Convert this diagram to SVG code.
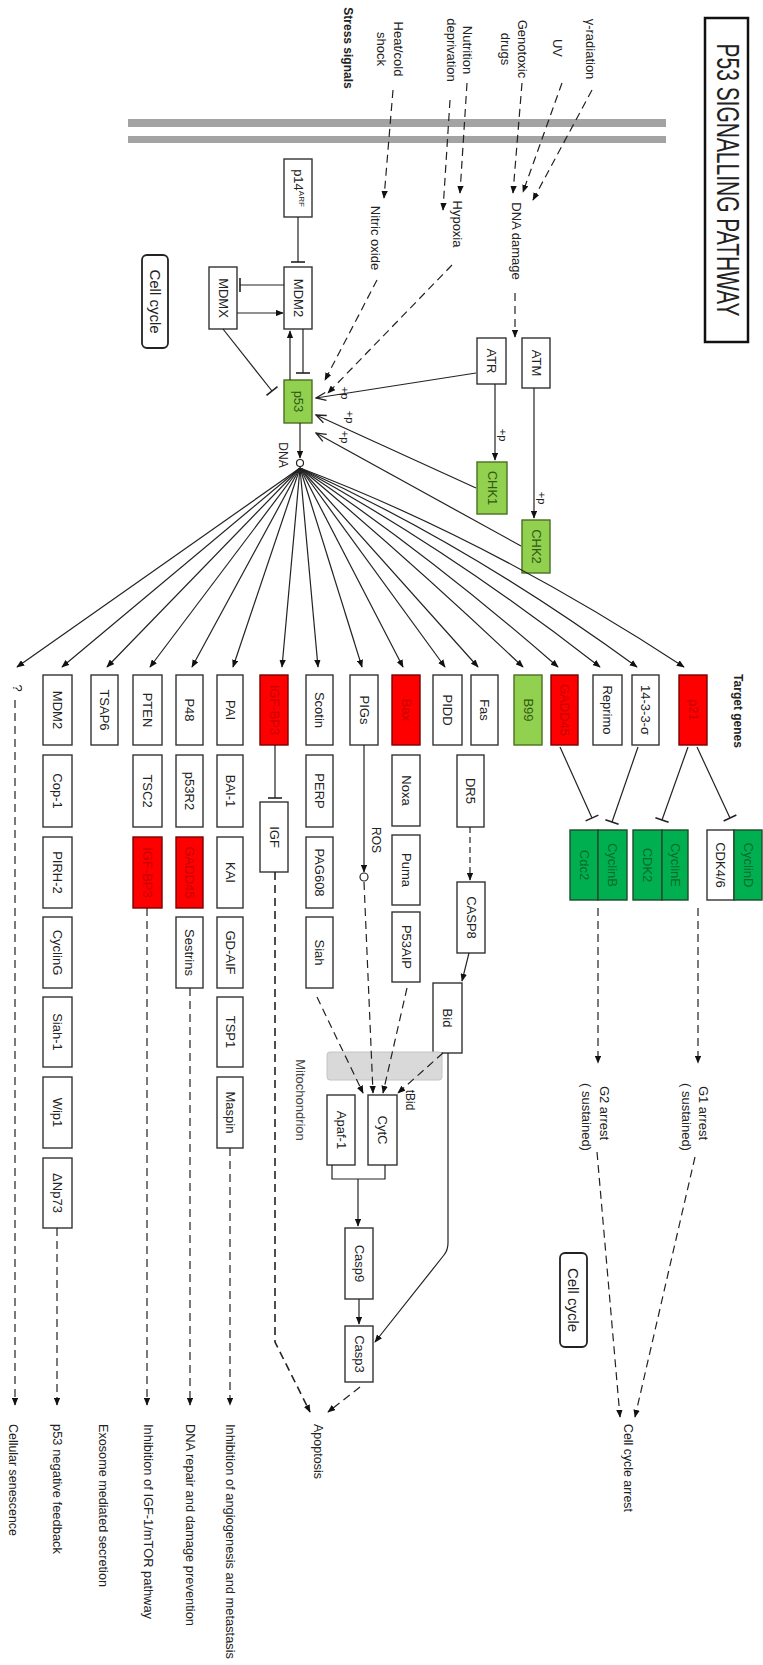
<svg xmlns="http://www.w3.org/2000/svg" width="763" height="1665" viewBox="0 0 763 1665">
<defs>
<style>
.t{font-family:'Liberation Sans',Arial,sans-serif;font-size:13px;fill:#222;text-anchor:middle;dominant-baseline:central}
.s{text-anchor:start}
.b{font-weight:bold}
.box{fill:#fff;stroke:#333;stroke-width:1.4}
.red{fill:#ff0000;stroke:#7a0000;stroke-width:1.4}
.lg{fill:#92d050;stroke:#4b6f22;stroke-width:1.4}
.dg{fill:#00b050;stroke:#1e4a2c;stroke-width:1.4}
.rt{fill:#c80000}
.gt{fill:#2e5a12}
.dgt{fill:#0a6a2a}
.ln{stroke:#222;stroke-width:1.2;fill:none}
.da{stroke-dasharray:8 5}
.mem{fill:#a3a3a3}
</style>
<marker id="ah" viewBox="0 0 10 8" refX="9" refY="4" markerWidth="8" markerHeight="6.5" orient="auto" markerUnits="userSpaceOnUse"><path d="M0,0 L10,4 L0,8z" fill="#111"/></marker>
<marker id="oa" viewBox="-1 -1 12 10" refX="10" refY="4" markerWidth="12" markerHeight="10" orient="auto" markerUnits="userSpaceOnUse"><path d="M0,0 L10,4 L0,8" fill="none" stroke="#222" stroke-width="1.3"/></marker>
<marker id="tee" viewBox="-2 -8 4 16" refX="0" refY="0" markerWidth="4" markerHeight="16" orient="auto" markerUnits="userSpaceOnUse"><path d="M0,-7 V7" stroke="#222" stroke-width="1.6"/></marker>
</defs>
<rect width="763" height="1665" fill="#fff"/>

<!-- membrane -->
<g id="membrane">
<rect class="mem" x="128" y="119" width="538" height="8"/>
<rect class="mem" x="128" y="136" width="538" height="7"/>
</g>

<g id="title">
<rect x="705" y="18" width="43" height="324" fill="#fff" stroke="#111" stroke-width="2.5"/>
<text class="t" x="727" y="180" transform="rotate(90 727 180)" font-size="31" textLength="273" lengthAdjust="spacingAndGlyphs" style="font-size:31px">P53 SIGNALLING PATHWAY</text>
</g>

<g id="stress-labels">
<text class="t b" x="348" y="48" transform="rotate(90 348 48)" style="font-size:12px">Stress signals</text>
<text class="t" x="590" y="49" transform="rotate(90 590 49)">γ-radiation</text>
<text class="t" x="557" y="48" transform="rotate(90 557 48)">UV</text>
<text class="t" x="522" y="49" transform="rotate(90 522 49)">Genotoxic</text>
<text class="t" x="505" y="49" transform="rotate(90 505 49)">drugs</text>
<text class="t" x="467" y="50" transform="rotate(90 467 50)">Nutrition</text>
<text class="t" x="451" y="50" transform="rotate(90 451 50)">deprivation</text>
<text class="t" x="398" y="49" transform="rotate(90 398 49)">Heat/cold</text>
<text class="t" x="381" y="49" transform="rotate(90 381 49)">shock</text>
<text class="t" x="516" y="241" transform="rotate(90 516 241)">DNA damage</text>
<text class="t" x="457" y="224" transform="rotate(90 457 224)">Hypoxia</text>
<text class="t" x="375" y="238" transform="rotate(90 375 238)">Nitric oxide</text>
<text class="t b" x="738" y="711" transform="rotate(90 738 711)" style="font-size:12px">Target genes</text>
</g>

<g id="nodes-top">
<g id="ATM"><rect class="box" x="522" y="338" width="28" height="50"/><text class="t" x="536" y="363" transform="rotate(90 536 363)">ATM</text></g>
<g id="ATR"><rect class="box" x="477" y="338" width="29" height="46"/><text class="t" x="491.5" y="361" transform="rotate(90 491.5 361)">ATR</text></g>
<g id="CHK1"><rect class="lg" x="477" y="462" width="30" height="52"/><text class="t gt" x="492" y="488" transform="rotate(90 492 488)">CHK1</text></g>
<g id="CHK2"><rect class="lg" x="522" y="520" width="28" height="53"/><text class="t gt" x="536" y="546.5" transform="rotate(90 536 546.5)">CHK2</text></g>
<g id="p14ARF"><rect class="box" x="284" y="159" width="28" height="58"/><text class="t" x="298" y="188" transform="rotate(90 298 188)">p14<tspan style="font-size:8px" dy="-4">ARF</tspan></text></g>
<g id="MDM2a"><rect class="box" x="284" y="267" width="28" height="62"/><text class="t" x="298" y="298" transform="rotate(90 298 298)">MDM2</text></g>
<g id="MDMX"><rect class="box" x="209" y="267" width="28" height="62"/><text class="t" x="223" y="298" transform="rotate(90 223 298)">MDMX</text></g>
<g id="p53"><rect class="lg" x="284" y="380" width="28" height="43"/><text class="t gt" x="298" y="401.5" transform="rotate(90 298 401.5)">p53</text></g>
<g id="cellcycle1"><rect x="142" y="255" width="26" height="93" rx="5" fill="#fff" stroke="#222" stroke-width="1.8"/><text class="t" x="155" y="301.5" transform="rotate(90 155 301.5)" style="font-size:15px">Cell cycle</text></g>
<g id="DNA"><circle cx="300" cy="463" r="3.5" fill="#fff" stroke="#222" stroke-width="1.2"/><text class="t" x="283" y="455" transform="rotate(90 283 455)" style="font-size:12px">DNA</text></g>
</g>

<g id="target-genes">
<g id="g-MDM2"><rect class="box" x="43" y="675" width="29" height="70"/><text class="t" x="57.5" y="710" transform="rotate(90 57.5 710)">MDM2</text></g>
<g id="g-TSAP6"><rect class="box" x="91" y="675" width="27" height="70"/><text class="t" x="104.5" y="710" transform="rotate(90 104.5 710)">TSAP6</text></g>
<g id="g-PTEN"><rect class="box" x="133" y="675" width="29" height="70"/><text class="t" x="147.5" y="710" transform="rotate(90 147.5 710)">PTEN</text></g>
<g id="g-P48"><rect class="box" x="176" y="675" width="27" height="70"/><text class="t" x="189.5" y="710" transform="rotate(90 189.5 710)">P48</text></g>
<g id="g-PAI"><rect class="box" x="217" y="675" width="26" height="70"/><text class="t" x="230" y="710" transform="rotate(90 230 710)">PAI</text></g>
<g id="g-IGFBP3"><rect class="red" x="260" y="675" width="28" height="70"/><text class="t rt" x="274" y="710" transform="rotate(90 274 710)">IGF-BP3</text></g>
<g id="g-Scotin"><rect class="box" x="306" y="675" width="27" height="70"/><text class="t" x="319.5" y="710" transform="rotate(90 319.5 710)">Scotin</text></g>
<g id="g-PIGs"><rect class="box" x="350" y="675" width="28" height="70"/><text class="t" x="364" y="710" transform="rotate(90 364 710)">PIGs</text></g>
<g id="g-Bax"><rect class="red" x="392" y="675" width="28" height="70"/><text class="t rt" x="406" y="710" transform="rotate(90 406 710)">Bax</text></g>
<g id="g-PIDD"><rect class="box" x="433" y="675" width="29" height="70"/><text class="t" x="447.5" y="710" transform="rotate(90 447.5 710)">PIDD</text></g>
<g id="g-Fas"><rect class="box" x="471" y="675" width="27" height="70"/><text class="t" x="484.5" y="710" transform="rotate(90 484.5 710)">Fas</text></g>
<g id="g-B99"><rect class="lg" x="514" y="675" width="28" height="70"/><text class="t gt" x="528" y="710" transform="rotate(90 528 710)">B99</text></g>
<g id="g-GADD45"><rect class="red" x="551" y="675" width="27" height="70"/><text class="t rt" x="564.5" y="710" transform="rotate(90 564.5 710)">GADD45</text></g>
<g id="g-Reprimo"><rect class="box" x="593" y="675" width="29" height="70"/><text class="t" x="607.5" y="710" transform="rotate(90 607.5 710)">Reprimo</text></g>
<g id="g-1433"><rect class="box" x="632" y="675" width="27" height="70"/><text class="t" x="645.5" y="710" transform="rotate(90 645.5 710)">14-3-3-σ</text></g>
<g id="g-p21"><rect class="red" x="679" y="675" width="28" height="70"/><text class="t rt" x="693" y="710" transform="rotate(90 693 710)">p21</text></g>
<text class="t" x="17" y="688" transform="rotate(90 17 688)">?</text>
</g>

<g id="secondary-nodes">
<g id="Cop1"><rect class="box" x="43" y="755" width="29" height="72"/><text class="t" x="57.5" y="791" transform="rotate(90 57.5 791)">Cop-1</text></g>
<g id="TSC2"><rect class="box" x="133" y="755" width="29" height="72"/><text class="t" x="147.5" y="791" transform="rotate(90 147.5 791)">TSC2</text></g>
<g id="p53R2"><rect class="box" x="176" y="755" width="27" height="72"/><text class="t" x="189.5" y="791" transform="rotate(90 189.5 791)">p53R2</text></g>
<g id="BAI1"><rect class="box" x="217" y="755" width="26" height="72"/><text class="t" x="230" y="791" transform="rotate(90 230 791)">BAI-1</text></g>
<g id="IGF"><rect class="box" x="260" y="802" width="28" height="70"/><text class="t" x="274" y="837" transform="rotate(90 274 837)">IGF</text></g>
<g id="PERP"><rect class="box" x="306" y="755" width="27" height="72"/><text class="t" x="319.5" y="791" transform="rotate(90 319.5 791)">PERP</text></g>
<g id="Noxa"><rect class="box" x="392" y="755" width="28" height="71"/><text class="t" x="406" y="790.5" transform="rotate(90 406 790.5)">Noxa</text></g>
<g id="DR5"><rect class="box" x="457" y="755" width="27" height="72"/><text class="t" x="470.5" y="791" transform="rotate(90 470.5 791)">DR5</text></g>

<g id="PIRH2"><rect class="box" x="43" y="837" width="29" height="71"/><text class="t" x="57.5" y="872.5" transform="rotate(90 57.5 872.5)">PIRH-2</text></g>
<g id="IGFBP3b"><rect class="red" x="133" y="837" width="29" height="71"/><text class="t rt" x="147.5" y="872.5" transform="rotate(90 147.5 872.5)">IGF-BP3</text></g>
<g id="GADD45b"><rect class="red" x="176" y="837" width="27" height="71"/><text class="t rt" x="189.5" y="872.5" transform="rotate(90 189.5 872.5)">GADD45</text></g>
<g id="KAI"><rect class="box" x="217" y="837" width="26" height="71"/><text class="t" x="230" y="872.5" transform="rotate(90 230 872.5)">KAI</text></g>
<g id="PAG608"><rect class="box" x="306" y="837" width="27" height="71"/><text class="t" x="319.5" y="872.5" transform="rotate(90 319.5 872.5)">PAG608</text></g>
<g id="Puma"><rect class="box" x="392" y="835" width="28" height="70"/><text class="t" x="406" y="870" transform="rotate(90 406 870)">Puma</text></g>

<g id="CyclinG"><rect class="box" x="43" y="917" width="29" height="71"/><text class="t" x="57.5" y="952.5" transform="rotate(90 57.5 952.5)">CyclinG</text></g>
<g id="Sestrins"><rect class="box" x="176" y="917" width="27" height="71"/><text class="t" x="189.5" y="952.5" transform="rotate(90 189.5 952.5)">Sestrins</text></g>
<g id="GDAIF"><rect class="box" x="217" y="917" width="26" height="71"/><text class="t" x="230" y="952.5" transform="rotate(90 230 952.5)">GD-AIF</text></g>
<g id="Siah"><rect class="box" x="306" y="917" width="27" height="71"/><text class="t" x="319.5" y="952.5" transform="rotate(90 319.5 952.5)">Siah</text></g>
<g id="P53AIP"><rect class="box" x="392" y="912" width="28" height="70"/><text class="t" x="406" y="947" transform="rotate(90 406 947)">P53AIP</text></g>

<g id="Siah1"><rect class="box" x="43" y="997" width="29" height="70"/><text class="t" x="57.5" y="1032" transform="rotate(90 57.5 1032)">Siah-1</text></g>
<g id="TSP1"><rect class="box" x="217" y="997" width="26" height="70"/><text class="t" x="230" y="1032" transform="rotate(90 230 1032)">TSP1</text></g>
<g id="Wip1"><rect class="box" x="43" y="1077" width="29" height="71"/><text class="t" x="57.5" y="1112.5" transform="rotate(90 57.5 1112.5)">Wip1</text></g>
<g id="Maspin"><rect class="box" x="217" y="1077" width="26" height="71"/><text class="t" x="230" y="1112.5" transform="rotate(90 230 1112.5)">Maspin</text></g>
<g id="dNp73"><rect class="box" x="43" y="1158" width="29" height="70"/><text class="t" x="57.5" y="1193" transform="rotate(90 57.5 1193)">ΔNp73</text></g>

<g id="CASP8"><rect class="box" x="457" y="882" width="28" height="71"/><text class="t" x="471" y="917.5" transform="rotate(90 471 917.5)">CASP8</text></g>
<g id="Bid"><rect class="box" x="433" y="983" width="29" height="70"/><text class="t" x="447.5" y="1018" transform="rotate(90 447.5 1018)">Bid</text></g>
<g id="ROS"><circle cx="364" cy="877" r="4" fill="#fff" stroke="#222" stroke-width="1.2"/><text class="t" x="376" y="840" transform="rotate(90 376 840)" style="font-size:12px">ROS</text></g>
<g id="Mitochondrion"><rect x="327" y="1052" width="115" height="28" rx="3" fill="#d9d9d9" stroke="#c4c4c4" stroke-width="1"/><text class="t" x="300" y="1100" transform="rotate(90 300 1100)" style="fill:#444">Mitochondrion</text></g>
<g id="Apaf1"><rect class="box" x="327" y="1095" width="28" height="70"/><text class="t" x="341" y="1130" transform="rotate(90 341 1130)">Apaf-1</text></g>
<g id="CytC"><rect class="box" x="368" y="1095" width="29" height="70"/><text class="t" x="382.5" y="1130" transform="rotate(90 382.5 1130)">CytC</text></g>
<g id="Casp9"><rect class="box" x="345" y="1228" width="28" height="71"/><text class="t" x="359" y="1263.5" transform="rotate(90 359 1263.5)">Casp9</text></g>
<g id="Casp3"><rect class="box" x="345" y="1326" width="28" height="56"/><text class="t" x="359" y="1354" transform="rotate(90 359 1354)">Casp3</text></g>
<text class="t" x="410" y="1100" transform="rotate(90 410 1100)" style="font-size:12px">tBid</text>
</g>

<g id="cell-cycle-nodes">
<g id="Cdc2-CyclinB"><rect class="dg" x="570" y="830" width="28" height="70"/><rect class="dg" x="598" y="830" width="29" height="70"/><text class="t dgt" x="584" y="865" transform="rotate(90 584 865)">Cdc2</text><text class="t dgt" x="612.5" y="865" transform="rotate(90 612.5 865)">CyclinB</text></g>
<g id="CDK2-CyclinE"><rect class="dg" x="633" y="830" width="29" height="70"/><rect class="dg" x="662" y="830" width="26" height="70"/><text class="t dgt" x="647.5" y="865" transform="rotate(90 647.5 865)">CDK2</text><text class="t dgt" x="675" y="865" transform="rotate(90 675 865)">CyclinE</text></g>
<g id="CDK46-CyclinD"><rect class="box" x="707" y="830" width="27" height="70"/><rect class="dg" x="734" y="830" width="28" height="70"/><text class="t" x="720.5" y="865" transform="rotate(90 720.5 865)">CDK4/6</text><text class="t dgt" x="748" y="865" transform="rotate(90 748 865)">CyclinD</text></g>
<text class="t" x="604" y="1113" transform="rotate(90 604 1113)">G2 arrest</text>
<text class="t" x="586" y="1117" transform="rotate(90 586 1117)">( sustained)</text>
<text class="t" x="703" y="1113" transform="rotate(90 703 1113)">G1 arrest</text>
<text class="t" x="686" y="1117" transform="rotate(90 686 1117)">( sustained)</text>
<g id="cellcycle2"><rect x="560" y="1253" width="27" height="94" rx="5" fill="#fff" stroke="#222" stroke-width="1.8"/><text class="t" x="573.5" y="1300" transform="rotate(90 573.5 1300)" style="font-size:15px">Cell cycle</text></g>
</g>

<g id="outcomes">
<text class="t s" x="13" y="1424" transform="rotate(90 13 1424)" textLength="112" lengthAdjust="spacingAndGlyphs">Cellular senescence</text>
<text class="t s" x="57" y="1424" transform="rotate(90 57 1424)" textLength="130" lengthAdjust="spacingAndGlyphs">p53 negative feedback</text>
<text class="t s" x="103" y="1424" transform="rotate(90 103 1424)" textLength="163" lengthAdjust="spacingAndGlyphs">Exosome mediated secretion</text>
<text class="t s" x="148" y="1424" transform="rotate(90 148 1424)" textLength="195" lengthAdjust="spacingAndGlyphs">Inhibition of IGF-1/mTOR pathway</text>
<text class="t s" x="190" y="1424" transform="rotate(90 190 1424)" textLength="202" lengthAdjust="spacingAndGlyphs">DNA repair and damage prevention</text>
<text class="t s" x="230" y="1424" transform="rotate(90 230 1424)" textLength="235" lengthAdjust="spacingAndGlyphs">Inhibition of angiogenesis and metastasis</text>
<text class="t s" x="318" y="1424" transform="rotate(90 318 1424)" textLength="55" lengthAdjust="spacingAndGlyphs">Apoptosis</text>
<text class="t s" x="628" y="1424" transform="rotate(90 628 1424)" textLength="88" lengthAdjust="spacingAndGlyphs">Cell cycle arrest</text>
</g>

<g id="connectors">
<!-- stress signals -->
<g class="ln da" marker-end="url(#ah)">
<path d="M592,90 L533,200" marker-end="url(#ah)"/>
<path d="M562,83 L523,192" marker-end="url(#ah)"/>
<path d="M522,83 L513,193" marker-end="url(#ah)"/>
<path d="M467,83 L460,193" marker-end="url(#ah)"/>
<path d="M450,100 L443,210" marker-end="url(#ah)"/>
<path d="M393,90 L384,198" marker-end="url(#ah)"/>
<path d="M515,293 L515,337" marker-end="url(#ah)"/>
<path d="M377,280 L325,380" marker-end="url(#ah)"/>
<path d="M452,265 L328,393" marker-end="url(#ah)"/>
</g>
<!-- kinases -->
<path class="ln" d="M534,388 L534,518" marker-end="url(#ah)"/>
<path class="ln" d="M495,384 L495,460" marker-end="url(#ah)"/>
<path class="ln" d="M476,373 L316,398" marker-end="url(#oa)"/>
<path class="ln" d="M476,488 L316,415" marker-end="url(#oa)"/>
<path class="ln" d="M521,546 L316,433" marker-end="url(#oa)"/>
<g class="t" style="font-size:11px">
<text x="542" y="498" transform="rotate(90 542 498)">+p</text>
<text x="503" y="435" transform="rotate(90 503 435)">+p</text>
<text x="345" y="393" transform="rotate(90 345 393)">+p</text>
<text x="350" y="417" transform="rotate(90 350 417)">+p</text>
<text x="345" y="437" transform="rotate(90 345 437)">+p</text>
</g>
<!-- MDM2 / p53 loop -->
<path class="ln" d="M298,217 L298,262" marker-end="url(#tee)"/>
<path class="ln" d="M284,285 L240,285" marker-end="url(#tee)"/>
<path class="ln" d="M237,313 L283,313" marker-end="url(#ah)"/>
<path class="ln" d="M303,329 L303,373" marker-end="url(#tee)"/>
<path class="ln" d="M290,380 L290,331" marker-end="url(#ah)"/>
<path class="ln" d="M223,329 L272,391" marker-end="url(#tee)"/>
<path class="ln" d="M300,423 L300,458" marker-end="url(#ah)"/>
<!-- fan -->
<g class="ln">
<path d="M300,468 L17,667" marker-end="url(#ah)"/>
<path d="M300,468 L62,667" marker-end="url(#ah)"/>
<path d="M300,468 L107,667" marker-end="url(#ah)"/>
<path d="M300,468 L150,667" marker-end="url(#ah)"/>
<path d="M300,468 L192,667" marker-end="url(#ah)"/>
<path d="M300,468 L233,667" marker-end="url(#ah)"/>
<path d="M300,468 L282,667" marker-end="url(#ah)"/>
<path d="M300,468 L318,667" marker-end="url(#ah)"/>
<path d="M300,468 L362,667" marker-end="url(#ah)"/>
<path d="M300,468 L403,667" marker-end="url(#ah)"/>
<path d="M300,468 L445,667" marker-end="url(#ah)"/>
<path d="M300,468 L478,667" marker-end="url(#ah)"/>
<path d="M300,468 Q410,560 523,667" marker-end="url(#ah)"/>
<path d="M300,468 Q430,555 558,667" marker-end="url(#ah)"/>
<path d="M300,468 Q450,550 600,667" marker-end="url(#ah)"/>
<path d="M300,468 Q470,545 637,667" marker-end="url(#ah)"/>
<path d="M300,468 Q490,540 684,667" marker-end="url(#ah)"/>
</g>
<!-- cell cycle inhibitions -->
<path class="ln" d="M560,747 L592,818" marker-end="url(#tee)"/>
<path class="ln" d="M638,747 L612,822" marker-end="url(#tee)"/>
<path class="ln" d="M688,747 L662,820" marker-end="url(#tee)"/>
<path class="ln" d="M697,747 L730,818" marker-end="url(#tee)"/>
<g class="ln da">
<path d="M598,908 L598,1063" marker-end="url(#ah)"/>
<path d="M698,908 L698,1063" marker-end="url(#ah)"/>
<path d="M597,1152 L620,1417" marker-end="url(#ah)"/>
<path d="M695,1157 L635,1417" marker-end="url(#ah)"/>
</g>
<!-- apoptosis -->
<path class="ln" d="M275,745 L275,798" marker-end="url(#tee)"/>
<path class="ln" d="M364,745 L364,872" marker-end="url(#ah)"/>
<path class="ln" d="M470,827 L470,880" style="stroke-dasharray:6 4" marker-end="url(#ah)"/>
<path class="ln" d="M469,953 L462,981" marker-end="url(#ah)"/>
<g class="ln da">
<path d="M364,882 L373,1093" marker-end="url(#ah)"/>
<path d="M317,997 L363,1093" marker-end="url(#ah)"/>
<path d="M407,988 L383,1093" marker-end="url(#ah)"/>
<path d="M443,1053 L398,1093" marker-end="url(#ah)"/>
<path d="M360,1387 L328,1412" marker-end="url(#ah)"/>
<path d="M275,872 L275,1342 L310,1412" style="stroke-width:1.6" marker-end="url(#ah)"/>
</g>
<path class="ln" d="M448,1053 L448,1243 Q448,1250 444,1255 L375,1342" marker-end="url(#ah)"/>
<path class="ln" d="M332,1165 L332,1179 L385,1179 L385,1165"/>
<path class="ln" d="M358,1179 L358,1226" marker-end="url(#ah)"/>
<path class="ln" d="M359,1299 L359,1324" marker-end="url(#ah)"/>
<!-- outcome lines -->
<g class="ln da">
<path d="M15,700 L15,1405" marker-end="url(#ah)"/>
<path d="M57,1228 L57,1405" marker-end="url(#ah)"/>
<path d="M147,908 L147,1405" marker-end="url(#ah)"/>
<path d="M190,988 L190,1405" marker-end="url(#ah)"/>
<path d="M230,1148 L230,1405" marker-end="url(#ah)"/>
</g>
</g>
</svg>
